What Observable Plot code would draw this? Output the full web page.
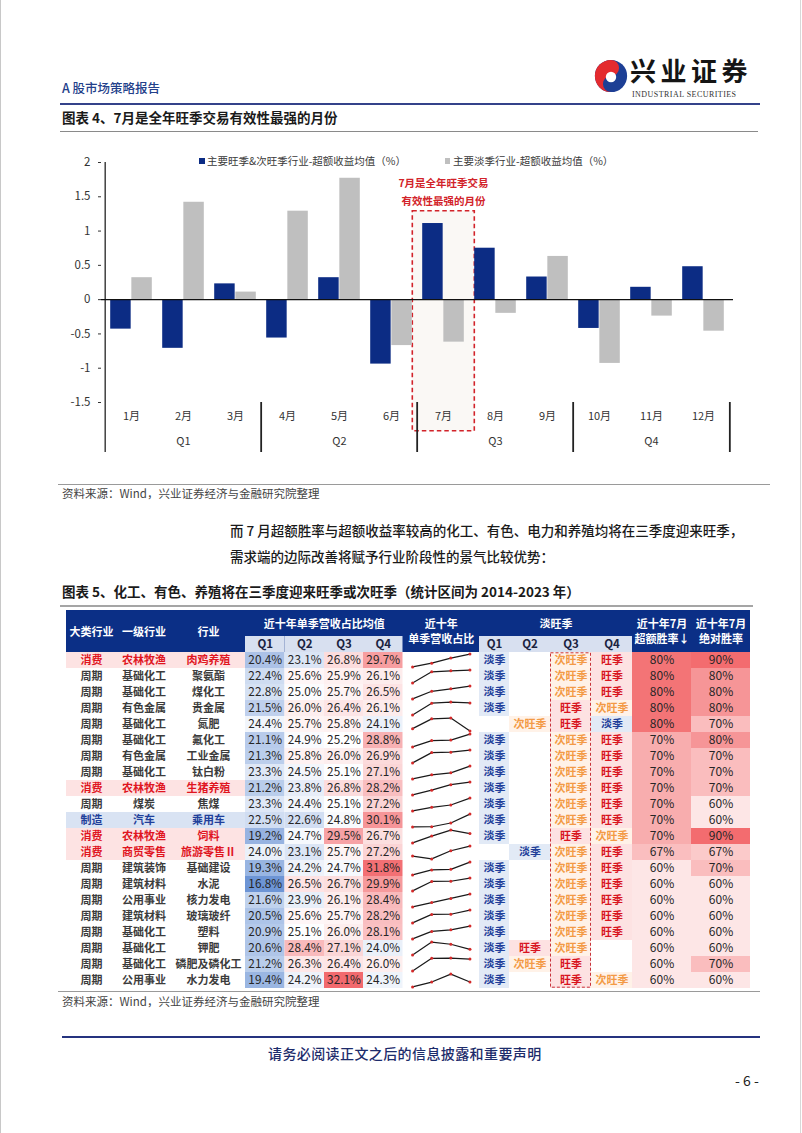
<!DOCTYPE html>
<html><head><meta charset="utf-8">
<script src="https://cdn.jsdelivr.net/npm/d3@7"></script>
<script src="https://cdn.jsdelivr.net/npm/@observablehq/plot@0.6"></script>
<style>
body{margin:0;background:#fff;}
#page{position:relative;width:802px;height:1133px;overflow:hidden;font-family:'Noto Sans CJK SC','Noto Sans',sans-serif;color:#222;}
.abs{position:absolute;white-space:nowrap;}
.ln{position:absolute;height:0;}
</style></head><body>
<div id="page">
  <div class="abs" style="left:0;top:0;width:0;height:1133px;border-left:1px solid #c8c8c8"></div>
  <div class="abs" style="left:800px;top:0;width:0;height:1133px;border-left:1px solid #d8d8d8"></div>
  <div class="abs" style="left:62px;top:79px;font-size:12.5px;line-height:18px;color:#23408a;font-weight:500">A 股市场策略报告</div>
  <svg class="abs" style="left:593px;top:57px" width="36" height="38" viewBox="0 0 38 40">
    <circle cx="19" cy="20" r="17" fill="#1d3f95"/>
    <path d="M19,3 A17,17 0 0,0 19,37 A8.5,8.5 0 0,1 19,20 A8.5,8.5 0 0,0 19,3 Z" fill="#e42b2f"/>
    <circle cx="19" cy="21" r="5.5" fill="#fff"/>
  </svg>
  <div class="abs" style="left:630px;top:57px;font-size:26px;line-height:26px;font-weight:700;letter-spacing:4.5px;color:#151515">兴业证券</div>
  <div class="abs" style="left:632px;top:90px;font-size:8px;line-height:9px;font-family:'Liberation Serif',serif;letter-spacing:0.45px;color:#333">INDUSTRIAL SECURITIES</div>
  <div class="ln" style="left:60px;top:103px;width:700px;border-top:2px solid #34428a"></div>
  <div class="abs" style="left:62px;top:108px;font-size:13.5px;line-height:18px;font-weight:700;color:#1a1a1a">图表 4、7月是全年旺季交易有效性最强的月份</div>
  <div class="ln" style="left:60px;top:131px;width:698px;border-top:1px solid #8a8a8a"></div>
  <div id="chart" class="abs" style="left:0;top:140px"></div>
  <div id="legend"></div>
  <div class="ln" style="left:58px;top:484px;width:712px;border-top:1.5px solid #9a9a9a"></div>
  <div class="abs" style="left:62px;top:485px;font-size:11.5px;line-height:16px;color:#444">资料来源：Wind，兴业证券经济与金融研究院整理</div>
  <div class="abs" style="left:230px;top:521px;font-size:13.5px;line-height:18px;font-weight:500;color:#1a1a1a">而 7 月超额胜率与超额收益率较高的化工、有色、电力和养殖均将在三季度迎来旺季，</div>
  <div class="abs" style="left:230px;top:547px;font-size:13.5px;line-height:18px;font-weight:500;color:#1a1a1a">需求端的边际改善将赋予行业阶段性的景气比较优势：</div>
  <div class="abs" style="left:62px;top:582px;font-size:13.5px;line-height:18px;font-weight:700;color:#1a1a1a">图表 5、化工、有色、养殖将在三季度迎来旺季或次旺季（统计区间为 2014-2023 年）</div>
  <div class="ln" style="left:60px;top:605px;width:693px;border-top:2px solid #a5a5a5"></div>
  <div id="table" class="abs" style="left:0;top:600px"></div>
  <div class="ln" style="left:58px;top:991px;width:702px;border-top:1.5px solid #9a9a9a"></div>
  <div class="abs" style="left:62px;top:993px;font-size:11.5px;line-height:16px;color:#444">资料来源：Wind，兴业证券经济与金融研究院整理</div>
  <div class="ln" style="left:62px;top:1036px;width:698px;border-top:2px solid #25337f"></div>
  <div class="abs" style="left:268px;top:1044px;font-size:14px;line-height:18px;letter-spacing:0.4px;font-weight:500;color:#1d2c6b">请务必阅读正文之后的信息披露和重要声明</div>
  <div class="abs" style="left:735px;top:1071px;font-size:14px;line-height:18px;color:#222">- 6 -</div>
</div>
<script>
// ---------------- Chart data ----------------
const months = ["1月","2月","3月","4月","5月","6月","7月","8月","9月","10月","11月","12月"];
const quarterNames = ["Q1","Q2","Q3","Q4"];
const peakSeasonExcess = [-0.43,-0.71,0.23,-0.56,0.32,-0.94,1.11,0.75,0.33,-0.42,0.18,0.48];
const offSeasonExcess  = [0.32,1.42,0.11,1.29,1.77,-0.67,-0.62,-0.20,0.63,-0.93,-0.24,-0.46];
const yTickValues = [-1.5,-1,-0.5,0,0.5,1,1.5,2];
const seriesNames = ["主要旺季&次旺季行业-超额收益均值（%）","主要淡季行业-超额收益均值（%）"];
const highlightMonth = "7月";
const highlightTop = 1.29;
const highlightNote = "7月是全年旺季交易\n有效性最强的月份";
const highlightNoteY = 1.6;

// ---------------- Table data ----------------
const sectors = ["消费","周期","周期","周期","周期","周期","周期","周期","消费","周期","制造","消费","消费","周期","周期","周期","周期","周期","周期","周期","周期"];
const industriesL1 = ["农林牧渔","基础化工","基础化工","有色金属","基础化工","基础化工","有色金属","基础化工","农林牧渔","煤炭","汽车","农林牧渔","商贸零售","建筑装饰","建筑材料","公用事业","建筑材料","基础化工","基础化工","基础化工","公用事业"];
const industries = ["肉鸡养殖","聚氨酯","煤化工","贵金属","氮肥","氟化工","工业金属","钛白粉","生猪养殖","焦煤","乘用车","饲料","旅游零售Ⅱ","基础建设","水泥","核力发电","玻璃玻纤","塑料","钾肥","磷肥及磷化工","水力发电"];
const shareQ1 = [20.4,22.4,22.8,21.5,24.4,21.1,21.3,23.3,21.2,23.3,22.5,19.2,24.0,19.3,16.8,21.6,20.5,20.9,20.6,21.2,19.4];
const shareQ2 = [23.1,25.6,25.0,26.0,25.7,24.9,25.8,24.5,23.8,24.4,22.6,24.7,23.1,24.2,26.5,23.9,25.6,25.1,28.4,26.3,24.2];
const shareQ3 = [26.8,25.9,25.7,26.4,25.8,25.2,26.0,25.1,26.8,25.1,24.8,29.5,25.7,24.7,26.7,26.1,25.7,26.0,27.1,26.4,32.1];
const shareQ4 = [29.7,26.1,26.5,26.1,24.1,28.8,26.9,27.1,28.2,27.2,30.1,26.7,27.2,31.8,29.9,28.4,28.2,28.1,24.0,26.0,24.3];
const seasonQ1 = ["淡季","淡季","淡季","淡季","","淡季","淡季","淡季","淡季","淡季","淡季","淡季","","淡季","淡季","淡季","淡季","淡季","淡季","淡季","淡季"];
const seasonQ2 = ["","","","","次旺季","","","","","","","","淡季","","","","","","旺季","次旺季",""];
const seasonQ3 = ["次旺季","次旺季","次旺季","旺季","旺季","次旺季","次旺季","次旺季","次旺季","次旺季","次旺季","旺季","次旺季","次旺季","次旺季","次旺季","次旺季","次旺季","次旺季","旺季","旺季"];
const seasonQ4 = ["旺季","旺季","旺季","次旺季","淡季","旺季","旺季","旺季","旺季","旺季","旺季","次旺季","旺季","旺季","旺季","旺季","旺季","旺季","","","次旺季"];
const julyExcessWin = [80,80,80,80,80,70,70,70,70,70,70,70,67,60,60,60,60,60,60,60,60];
const julyAbsWin    = [90,80,80,80,70,80,70,70,70,60,60,90,67,70,60,60,60,60,60,70,60];
const headerLabels = ["大类行业","一级行业","行业","近十年单季营收占比均值","近十年\n单季营收占比","淡旺季","近十年7月\n超额胜率↓","近十年7月\n绝对胜率"];

// ---------------- Chart ----------------
const FONT = "'Noto Sans CJK SC','Noto Sans',sans-serif";
const CH = {width: 760, height: 320, left: 101, right: 27, top: 22, bottom: 58};
const bw = (CH.width - CH.left - CH.right) / months.length;
const outerInset = 5.2;
const BLUE = "#0c2c84", GRAY = "#bfbfbf", RED = "#d2232a";

const peakData = months.map((m, i) => ({month: m, value: peakSeasonExcess[i]}));
const offData = months.map((m, i) => ({month: m, value: offSeasonExcess[i]}));
const quarterData = quarterNames.map((q, i) => ({q, mid: months[i * 3 + 1], start: months[i * 3]}));
const yMin = d3.min(yTickValues), yMax = d3.max(yTickValues);

const chart = Plot.plot({
  width: CH.width, height: CH.height,
  marginLeft: CH.left, marginRight: CH.right, marginTop: CH.top, marginBottom: CH.bottom,
  style: {fontFamily: FONT, fontSize: "11.5px", color: "#333", background: "transparent"},
  x: {type: "band", domain: months, padding: 0, axis: null},
  y: {domain: [yMin, yMax], ticks: yTickValues, tickFormat: d => String(d), tickSize: 3, tickPadding: 8, label: null},
  marks: [
    Plot.barY([{month: highlightMonth, top: highlightTop}], {
      x: "month", y1: yMin, y2: "top", fill: "#faf8f5", stroke: RED, strokeWidth: 1.6,
      strokeDasharray: "4.5,3", insetLeft: -4.7, insetRight: -5.3, insetBottom: -28.7
    }),
    Plot.barY(peakData, {x: "month", y1: 0, y2: "value", fill: BLUE, insetLeft: outerInset, insetRight: bw / 2}),
    Plot.barY(offData, {x: "month", y1: 0, y2: "value", fill: GRAY, insetLeft: bw / 2, insetRight: outerInset}),
    Plot.ruleY([0], {stroke: "#111", strokeWidth: 1.3}),
    Plot.ruleX([months[0]], {dx: -bw / 2, y1: yMax, y2: yMin, insetBottom: -50, stroke: "#111", strokeWidth: 1.2}),
    Plot.ruleX(quarterData.slice(1), {x: "start", dx: -bw / 2, y1: yMin, y2: yMin, insetBottom: -50, stroke: "#222", strokeWidth: 1.8}),
    Plot.ruleX([months[months.length - 1]], {dx: bw / 2, y1: yMin, y2: yMin, insetBottom: -50, stroke: "#222", strokeWidth: 1.8}),
    Plot.text(months, {x: d => d, text: d => d, frameAnchor: "bottom", dy: 17, fontSize: 11, fill: "#333"}),
    Plot.text(quarterData, {x: "mid", text: "q", frameAnchor: "bottom", dy: 42.5, fontSize: 11, fill: "#333"}),
    Plot.text([highlightNote], {x: () => highlightMonth, y: () => highlightNoteY, text: d => d, fill: RED,
      fontSize: 10.5, fontWeight: "bold", lineHeight: 1.71})
  ]
});
document.getElementById("chart").appendChild(chart);

// legend (HTML, above the plot area)
const legend = document.getElementById("legend");
[[seriesNames[0], BLUE, 199, 207], [seriesNames[1], GRAY, 444.5, 453]].forEach(([label, color, sx, tx]) => {
  const sq = document.createElement("div");
  sq.className = "abs";
  sq.style.cssText = `left:${sx}px;top:158px;width:5.5px;height:5.5px;background:${color}`;
  legend.appendChild(sq);
  const t = document.createElement("div");
  t.className = "abs";
  t.style.cssText = `left:${tx}px;top:153px;font-size:10.5px;line-height:16px;color:#3a3a3a`;
  t.textContent = label;
  legend.appendChild(t);
});

// ---------------- Table ----------------
const colWidths = [50,55,74,39.5,39.5,39,39.5,76.5,30,41,41,41,59,59];
const colStart = [];
{ let acc = 0; colWidths.forEach(w => { colStart.push(acc); acc += w; }); }
const tableW = colStart[colStart.length - 1] + colWidths[colWidths.length - 1];
const colMid = c => colStart[c] + colWidths[c] / 2;
const colEnd = c => colStart[c] + colWidths[c];
const HEAD = 2.625;
const NAVY = "#0b2f86";
const nRows = sectors.length;

const shares = [shareQ1, shareQ2, shareQ3, shareQ4];
const seasons = [seasonQ1, seasonQ2, seasonQ3, seasonQ4];
const allShares = shares.flat();
const shareColor = d3.scaleLinear().domain([d3.min(allShares), 25.2, d3.max(allShares)]).range(["#6d95d5", "#ffffff", "#f26a6e"]);
const winColorEx = d3.scaleLinear().domain(d3.extent(julyExcessWin)).range(["#fde6e6", "#f37476"]);
const winColorAbs = d3.scaleLinear().domain(d3.extent(julyAbsWin)).range(["#fde6e6", "#f36c6f"]);
const sectorStyle = {"消费": {bg: "#fde3e3", fg: "#e0151f"}, "制造": {bg: "#d9e3f3", fg: "#1f3f9a"}, "周期": {bg: null, fg: "#3c3c3c"}};
const seasonStyle = {"淡季": {bg: "#e2eaf6", fg: "#1f3f9a"}, "旺季": {bg: "#fde2e2", fg: "#d8141f"}, "次旺季": {bg: "#fff2e8", fg: "#f39a45"}};

// header
const headerCells = [
  {c0: 0, c1: 0, y: -1.3, text: headerLabels[0]},
  {c0: 1, c1: 1, y: -1.3, text: headerLabels[1]},
  {c0: 2, c1: 2, y: -1.3, text: headerLabels[2]},
  {c0: 3, c1: 6, y: -1.81, text: headerLabels[3]},
  {c0: 7, c1: 7, y: -1.34, text: headerLabels[4]},
  {c0: 8, c1: 11, y: -1.81, text: headerLabels[5]},
  {c0: 12, c1: 12, y: -1.34, text: headerLabels[6]},
  {c0: 13, c1: 13, y: -1.34, text: headerLabels[7]}
];
const subCols = [3,4,5,6,8,9,10,11];
const subHeader = subCols.map((c, k) => ({c, text: quarterNames[k % 4]}));

// body
const rowBg = [], catText = [], shareCells = [], sparkPts = [], seasonCells = [], winCells = [];
for (let i = 0; i < nRows; i++) {
  const st = sectorStyle[sectors[i]];
  if (st.bg) rowBg.push({i, fill: st.bg});
  [sectors[i], industriesL1[i], industries[i]].forEach((t, c) => catText.push({i, c, text: t, fill: st.fg}));
  const vals = shares.map(s => s[i]);
  const lo = d3.min(vals), hi = d3.max(vals);
  vals.forEach((v, q) => {
    shareCells.push({i, c: 3 + q, v, fill: shareColor(v), text: v.toFixed(1) + "%"});
    sparkPts.push({row: i, x: colStart[7] + colWidths[7] * (0.125 + q * 0.25), y: i + 0.1 + 0.8 * (hi - v) / (hi - lo)});
  });
  seasons.forEach((s, q) => {
    if (s[i]) seasonCells.push({i, c: 8 + q, text: s[i], bg: seasonStyle[s[i]].bg, fg: seasonStyle[s[i]].fg});
  });
  winCells.push({i, c: 12, text: julyExcessWin[i] + "%", fill: winColorEx(julyExcessWin[i])});
  winCells.push({i, c: 13, text: julyAbsWin[i] + "%", fill: winColorAbs(julyAbsWin[i])});
}

const table = Plot.plot({
  width: 802, height: 395,
  marginLeft: 66, marginRight: 802 - 66 - tableW, marginTop: 10, marginBottom: 7,
  style: {fontFamily: FONT, fontSize: "11px", background: "transparent"},
  x: {domain: [0, tableW], axis: null},
  y: {domain: [nRows, -HEAD], axis: null},
  color: {type: "identity"},
  marks: [
    Plot.rect([0], {x1: colStart[0], x2: tableW, y1: -HEAD, y2: 0, fill: NAVY}),
    Plot.rect(subCols, {x1: c => colStart[c], x2: c => colEnd(c), y1: -1, y2: 0, fill: "#d8e0f0"}),
    Plot.text(headerCells, {x: d => (colStart[d.c0] + colEnd(d.c1)) / 2, y: "y", text: "text", fill: "#ffffff",
      fontWeight: "bold", fontSize: 11, lineHeight: 1.36}),
    Plot.text(subHeader, {x: d => colMid(d.c), y: -0.5, text: "text", fill: "#1a2340", fontWeight: "bold", fontSize: 11.5}),
    Plot.rect(rowBg, {x1: colStart[0], x2: colEnd(2), y1: d => d.i, y2: d => d.i + 1, fill: "fill"}),
    Plot.text(catText, {x: d => colMid(d.c), y: d => d.i + 0.5, text: "text", fill: "fill", fontWeight: "bold", fontSize: 11}),
    Plot.rect(shareCells, {x1: d => colStart[d.c], x2: d => colEnd(d.c), y1: d => d.i, y2: d => d.i + 1, fill: "fill"}),
    Plot.text(shareCells, {x: d => colMid(d.c), y: d => d.i + 0.5, text: "text", fill: "#262626", fontSize: 11.8}),
    Plot.line(sparkPts, {x: "x", y: "y", z: "row", stroke: "#1a1a1a", strokeWidth: 1.2}),
    Plot.dot(sparkPts, {x: "x", y: "y", r: 1.5, fill: "#d42a2a"}),
    Plot.rect(seasonCells, {x1: d => colStart[d.c], x2: d => colEnd(d.c), y1: d => d.i, y2: d => d.i + 1, fill: "bg"}),
    Plot.text(seasonCells, {x: d => colMid(d.c), y: d => d.i + 0.5, text: "text", fill: "fg", fontWeight: "bold", fontSize: 11}),
    Plot.rect([0], {x1: colStart[10] + 0.5, x2: colEnd(10) - 0.5, y1: 0.05, y2: nRows - 0.05, fill: "none", stroke: "#c8323a",
      strokeWidth: 1, strokeDasharray: "3,2"}),
    Plot.rect(winCells, {x1: d => colStart[d.c], x2: d => colEnd(d.c), y1: d => d.i, y2: d => d.i + 1, fill: "fill"}),
    Plot.text(winCells, {x: d => colMid(d.c), y: d => d.i + 0.5, text: "text", fill: "#262626", fontSize: 12})
  ]
});
document.getElementById("table").appendChild(table);
</script>
</body></html>
